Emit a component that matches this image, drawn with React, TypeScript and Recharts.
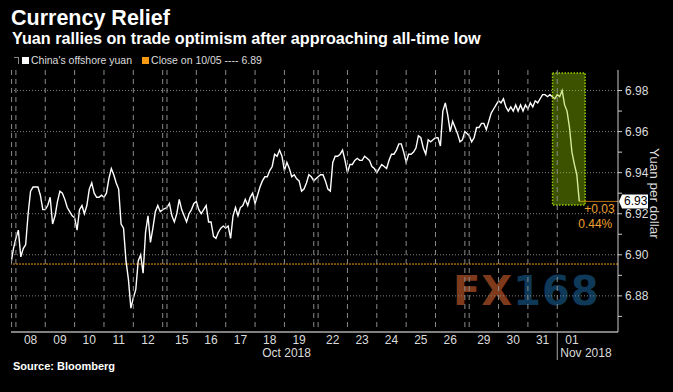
import { LineChart, Line, XAxis, YAxis, ReferenceLine, ReferenceArea, ReferenceDot } from 'recharts';

// trading-day axis: one unit per session, weekends squeezed to a small gap
const dayLabels = ['08', '09', '10', '11', '12', '15', '16', '17', '18', '19', '22', '23', '24', '25', '26', '29', '30', '31', '01'];
const monthLabels = ['Oct 2018', 'Nov 2018'];
const weekStarts = [0, 5.147, 10.294, 15.441];
const daysInWeek = [5, 5, 5, 4];
const samplesPerDay = 12;
const week1Lead = 2; // samples printed before the 10/08 open

// China's offshore yuan (CNH per USD)
const week1 = [
    6.896, 6.903,
    6.908, 6.912, 6.899, 6.903, 6.905, 6.920, 6.931, 6.933, 6.933, 6.933, 6.929, 6.922,
    6.922, 6.924, 6.928, 6.915, 6.919, 6.926, 6.931, 6.930, 6.927, 6.923, 6.921, 6.919,
    6.918, 6.912, 6.922, 6.924, 6.920, 6.924, 6.932, 6.935, 6.930, 6.928, 6.928, 6.929,
    6.928, 6.930, 6.937, 6.942, 6.939, 6.935, 6.932, 6.915, 6.913, 6.897, 6.888, 6.874,
    6.879, 6.883, 6.897, 6.900, 6.891, 6.911, 6.919, 6.906, 6.913, 6.921, 6.924, 6.921, 6.922,
];
const week2 = [
    6.923, 6.925, 6.919, 6.916, 6.920, 6.927, 6.922, 6.919, 6.916, 6.920, 6.922, 6.925,
    6.926, 6.922, 6.920, 6.922, 6.924, 6.916, 6.916, 6.909, 6.908, 6.911, 6.913, 6.914,
    6.913, 6.914, 6.908, 6.919, 6.923, 6.919, 6.923, 6.924, 6.927, 6.924, 6.928, 6.930,
    6.925, 6.929, 6.933, 6.936, 6.938, 6.938, 6.941, 6.943, 6.949, 6.948, 6.951, 6.948,
    6.941, 6.945, 6.942, 6.938, 6.939, 6.937, 6.936, 6.931, 6.932, 6.935, 6.939, 6.938, 6.936,
];
const week3 = [
    6.938, 6.939, 6.939, 6.936, 6.932, 6.931, 6.945, 6.948, 6.948, 6.949, 6.951, 6.946,
    6.940, 6.944, 6.944, 6.946, 6.947, 6.946, 6.946, 6.948, 6.947, 6.946, 6.943, 6.942,
    6.940, 6.942, 6.944, 6.943, 6.942, 6.946, 6.949, 6.949, 6.951, 6.954, 6.954, 6.950,
    6.945, 6.949, 6.949, 6.950, 6.952, 6.958, 6.957, 6.952, 6.949, 6.956, 6.955, 6.956,
    6.957, 6.957, 6.953, 6.970, 6.974, 6.968, 6.960, 6.965, 6.962, 6.959, 6.955, 6.956, 6.960,
];
const week4 = [
    6.958, 6.955, 6.957, 6.962, 6.962, 6.964, 6.964, 6.961, 6.965, 6.969, 6.971, 6.973,
    6.975, 6.974, 6.976, 6.972, 6.970, 6.972, 6.970, 6.973, 6.970, 6.973, 6.970, 6.973,
    6.971, 6.974, 6.972, 6.975, 6.974, 6.976, 6.978, 6.978, 6.977, 6.978, 6.977, 6.976,
    6.978, 6.977, 6.980, 6.973, 6.970, 6.962, 6.950, 6.944, 6.939, 6.926,
];

const closeOct05 = 6.8955;
const yTicks = [6.87, 6.88, 6.89, 6.9, 6.91, 6.92, 6.93, 6.94, 6.95, 6.96, 6.97, 6.98];
const xDomain = [-0.167, 20.51];
const yDomain = [6.8624, 6.99];
const highlight = { from: 18.28, to: 19.39, low: 6.9243, high: 6.9885 };

const weeks = [week1, week2, week3, week4];
const data = weeks.flatMap((vals, w) => {
    const lead = w === 0 ? week1Lead : 0;
    return vals.map((v, i) => ({ t: weekStarts[w] + (i - lead) / samplesPerDay, v }));
});
const last = data[data.length - 1];
const change = last.v - closeOct05;

const dayStarts = weekStarts.flatMap((s, w) => Array.from({ length: daysInWeek[w] }, (_, d) => s + d));
const dayCenters = dayStarts.map(s => s + 0.5);
const weekendGap = weekStarts[1] - 5;
const boundaries = [
    weekStarts[0] - weekendGap,
    ...dayStarts,
    ...weekStarts.slice(0, 3).map(s => s + 5),
].sort((a, b) => a - b);
const monthTicks = [(dayStarts[0] + dayStarts[dayStarts.length - 1]) / 2, dayStarts[dayStarts.length - 1]];

const PLOT_H = 262;

// draws a dashed day-boundary line down through the plot from the top axis
const GridTick = (props: any) => {
    const { x, y } = props;
    return <line x1={x} x2={x} y1={y} y2={y + PLOT_H} stroke="#8a8a8a" strokeDasharray="5 4" strokeWidth={1} />;
};

const DayTick = (props: any) => {
    const { x, y, index } = props;
    return (
        <text x={x} y={y} dy={12} textAnchor="middle" fill="#dcdcdc" fontSize={12}>
            {dayLabels[index]}
        </text>
    );
};

const MonthTick = (props: any) => {
    const { x, y, index } = props;
    if (index === 0) {
        return (
            <text x={x} y={y} dy={11} textAnchor="middle" fill="#dcdcdc" fontSize={12}>
                {monthLabels[0]}
            </text>
        );
    }
    return (
        <g>
            <line x1={x} x2={x} y1={y - 14} y2={y + 14} stroke="#aaa" strokeWidth={1} />
            <text x={x + 3} y={y} dy={11} textAnchor="start" fill="#dcdcdc" fontSize={12}>
                {monthLabels[1]}
            </text>
        </g>
    );
};

const PriceTick = (props: any) => {
    const { x, y, payload } = props;
    if (Math.round(payload.value * 100) % 2 !== 0) return null;
    return (
        <text x={x} y={y} dy={4} textAnchor="start" fill="#dcdcdc" fontSize={12}>
            {payload.value.toFixed(2)}
        </text>
    );
};

const LastTag = (props: any) => {
    const { cx, cy } = props;
    return (
        <g>
            <path d={`M${cx + 1},${cy} L${cx + 4},${cy - 7} L${cx + 30},${cy - 7} L${cx + 30},${cy + 7} L${cx + 4},${cy + 7} Z`} fill="#fff" />
            <text x={cx + 6} y={cy} dy={4} fill="#000" fontSize={12}>{last.v.toFixed(2)}</text>
        </g>
    );
};

const ChangeText = (props: any) => {
    const { cx, cy } = props;
    return (
        <g fill="#f0a030" fontSize={12}>
            <text x={cx + 5} y={cy + 12}>{`+${change.toFixed(2)}`}</text>
            <text x={cx - 1} y={cy + 27}>{`${((change / closeOct05) * 100).toFixed(2)}%`}</text>
        </g>
    );
};

export default function App() {
    const font = '"Liberation Sans", Arial, sans-serif';
    return (
        <div style={{ position: 'fixed', left: 0, top: 0, width: 673, height: 392, background: '#000', overflow: 'hidden', fontFamily: font }}>
            <div style={{ position: 'absolute', left: 11, top: 8, fontSize: 21.5, lineHeight: 1, fontWeight: 700, color: '#fff' }}>
                Currency Relief
            </div>
            <div style={{ position: 'absolute', left: 12, top: 30, fontSize: 16.2, lineHeight: 1, fontWeight: 700, color: '#fff', whiteSpace: 'nowrap' }}>
                Yuan rallies on trade optimism after approaching all-time low
            </div>
            <div style={{ position: 'absolute', left: 14, top: 55, fontSize: 10.5, lineHeight: 1, color: '#ddd', display: 'flex', alignItems: 'center', whiteSpace: 'nowrap' }}>
                <span style={{ display: 'inline-block', width: 4, height: 6, borderTop: '1px solid #888', borderRight: '1px solid #888', marginRight: 3 }} />
                <span style={{ display: 'inline-block', width: 7, height: 7, background: '#fff', marginRight: 2 }} />
                <span>China's offshore yuan</span>
                <span style={{ display: 'inline-block', width: 7, height: 7, background: '#f59a12', marginLeft: 10, marginRight: 2 }} />
                <span>Close on 10/05 ---- 6.89</span>
            </div>
            <div style={{ position: 'absolute', left: 453, top: 271, fontSize: 40, lineHeight: 1, fontWeight: 700, fontFamily: '"DejaVu Sans", sans-serif', whiteSpace: 'nowrap', letterSpacing: 1 }}>
                <span style={{ color: '#7e3a1a' }}>FX</span>
                <span style={{ color: '#0f3958' }}>168</span>
            </div>
            <div style={{ position: 'absolute', left: 647, top: 148, writingMode: 'vertical-rl', fontSize: 13.5, color: '#ddd', whiteSpace: 'nowrap' }}>
                Yuan per dollar
            </div>
            <div style={{ position: 'absolute', left: 13, top: 361, fontSize: 11, lineHeight: 1, fontWeight: 700, color: '#fff' }}>
                Source: Bloomberg
            </div>
            <div style={{ position: 'absolute', left: 0, top: 0 }}>
                <LineChart width={673} height={392} data={data} margin={{ top: 69, right: 0, bottom: 16, left: 11 }}>
                    <XAxis
                        xAxisId="grid"
                        orientation="top"
                        dataKey="t"
                        type="number"
                        domain={xDomain}
                        allowDataOverflow
                        ticks={boundaries}
                        interval={0}
                        tick={GridTick}
                        tickLine={false}
                        tickSize={0}
                        tickMargin={0}
                        axisLine={false}
                        height={1}
                    />
                    <XAxis
                        xAxisId="day"
                        dataKey="t"
                        type="number"
                        domain={xDomain}
                        allowDataOverflow
                        ticks={dayCenters}
                        interval={0}
                        tick={DayTick}
                        tickLine={false}
                        tickSize={0}
                        tickMargin={0}
                        height={14}
                        axisLine={{ stroke: '#fff', strokeWidth: 1 }}
                    />
                    <XAxis
                        xAxisId="month"
                        dataKey="t"
                        type="number"
                        domain={xDomain}
                        allowDataOverflow
                        ticks={monthTicks}
                        interval={0}
                        tick={MonthTick}
                        tickLine={false}
                        tickSize={0}
                        tickMargin={0}
                        height={30}
                        axisLine={false}
                    />
                    <YAxis
                        orientation="right"
                        domain={yDomain}
                        allowDataOverflow
                        ticks={yTicks}
                        interval={0}
                        tick={PriceTick}
                        width={55}
                        tickSize={4}
                        tickMargin={3}
                        tickLine={{ stroke: '#ccc' }}
                        axisLine={{ stroke: '#ccc' }}
                    />
                    {yTicks.filter(v => Math.round(v * 100) % 2 === 0).map(v => (
                        <ReferenceLine key={`h${v}`} xAxisId="day" y={v} stroke="#808080" strokeDasharray="1 2" />
                    ))}
                    <ReferenceLine xAxisId="day" y={closeOct05} stroke="#f59a12" strokeDasharray="2 1" />
                    <Line
                        xAxisId="day"
                        type="linear"
                        dataKey="v"
                        stroke="#ffffff"
                        strokeWidth={1.4}
                        dot={false}
                        isAnimationActive={false}
                    />
                    <ReferenceLine
                        xAxisId="day"
                        segment={[{ x: last.t, y: last.v }, { x: xDomain[1], y: last.v }]}
                        stroke="#b8700e"
                        zIndex={450}
                    />
                    <ReferenceArea
                        xAxisId="day"
                        x1={highlight.from}
                        x2={highlight.to}
                        y1={highlight.low}
                        y2={highlight.high}
                        fill="#99cc00"
                        fillOpacity={0.4}
                        stroke="#99cc00"
                        strokeWidth={1.5}
                        strokeDasharray="1.5 1.5"
                        zIndex={450}
                    />
                    <ReferenceDot xAxisId="day" x={last.t} y={last.v} r={0} ifOverflow="visible" shape={ChangeText} zIndex={2000} />
                    <ReferenceDot xAxisId="day" x={xDomain[1]} y={last.v} r={0} ifOverflow="visible" shape={LastTag} zIndex={2000} />
                </LineChart>
            </div>
        </div>
    );
}
